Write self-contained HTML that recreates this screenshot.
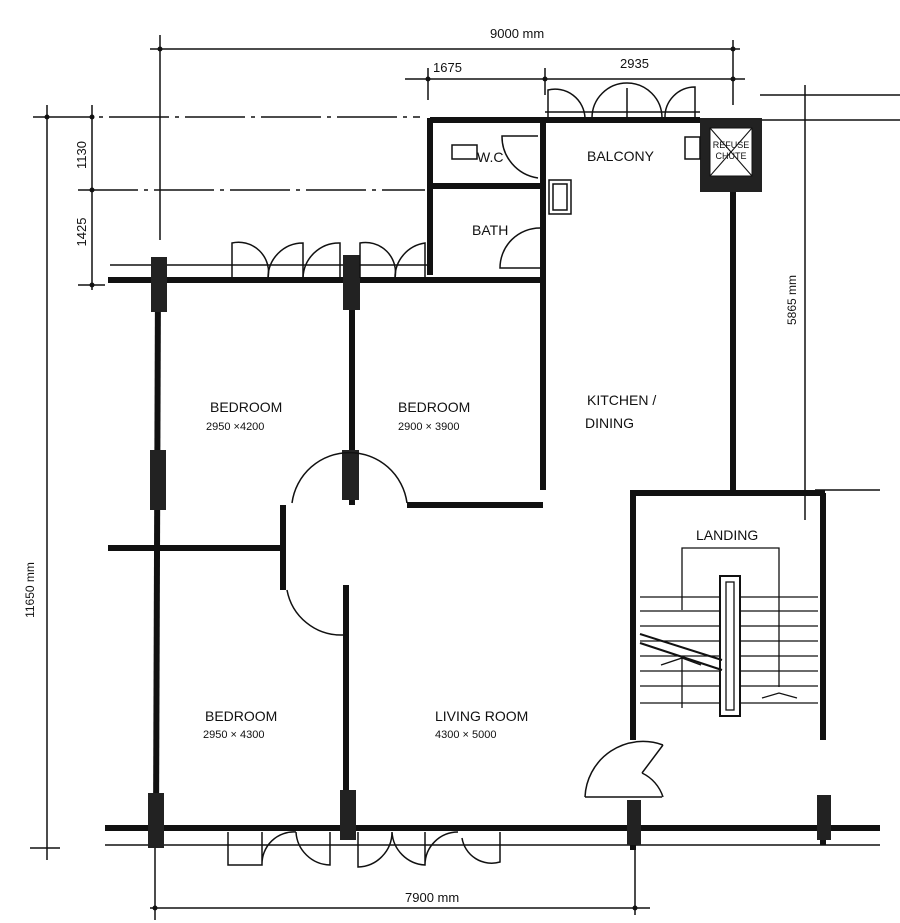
<!DOCTYPE html>
<html><head><meta charset="utf-8"><style>
html,body{margin:0;padding:0;background:#fff;}
svg{display:block;}
text{font-family:"Liberation Sans",sans-serif;fill:#111;}
</style></head><body>
<svg width="900" height="923" viewBox="0 0 900 923" xmlns="http://www.w3.org/2000/svg">
<g stroke="#111" fill="none" stroke-width="1.5">
<!-- dimension lines -->
<line x1="150" y1="49" x2="740" y2="49"/>
<line x1="160" y1="35" x2="160" y2="240"/>
<line x1="733" y1="40" x2="733" y2="105"/>
<line x1="405" y1="79" x2="745" y2="79"/>
<line x1="428" y1="68" x2="428" y2="100"/>
<line x1="545" y1="68" x2="545" y2="95"/>
<line x1="33" y1="117" x2="420" y2="117" stroke-dasharray="60,6,4,6"/>
<line x1="78" y1="190" x2="425" y2="190" stroke-dasharray="60,6,4,6"/>
<line x1="47" y1="105" x2="47" y2="860"/>
<line x1="92" y1="105" x2="92" y2="290"/>
<line x1="78" y1="285" x2="105" y2="285"/>
<line x1="30" y1="848" x2="60" y2="848"/>
<line x1="805" y1="85" x2="805" y2="520"/>
<line x1="150" y1="908" x2="650" y2="908"/>
<line x1="155" y1="845" x2="155" y2="920"/>
<line x1="635" y1="850" x2="635" y2="915"/>
<line x1="760" y1="95" x2="900" y2="95"/>
<line x1="760" y1="120" x2="900" y2="120"/>
<line x1="815" y1="490" x2="880" y2="490"/>
<!-- window lines top -->
<line x1="110" y1="265" x2="430" y2="265"/>
<line x1="545" y1="112" x2="700" y2="112"/>
<!-- bottom window line -->
<line x1="105" y1="845" x2="880" y2="845"/>
</g>
<g fill="#111">
<circle cx="160" cy="49" r="2.5"/><circle cx="733" cy="49" r="2.5"/>
<circle cx="428" cy="79" r="2.5"/><circle cx="545" cy="79" r="2.5"/><circle cx="733" cy="79" r="2.5"/>
<circle cx="47" cy="117" r="2.5"/><circle cx="92" cy="117" r="2.5"/><circle cx="92" cy="190" r="2.5"/><circle cx="92" cy="285" r="2.5"/>
<circle cx="155" cy="908" r="2.5"/><circle cx="635" cy="908" r="2.5"/>
</g>
<!-- walls -->
<g stroke="#111" stroke-width="6" fill="none">
<line x1="108" y1="280" x2="545" y2="280"/>
<line x1="158" y1="280" x2="156" y2="830"/>
<line x1="352" y1="280" x2="352" y2="505"/>
<line x1="407" y1="505" x2="543" y2="505"/>
<line x1="543" y1="118" x2="543" y2="490"/>
<line x1="430" y1="118" x2="430" y2="275"/>
<line x1="430" y1="120" x2="545" y2="120"/>
<line x1="430" y1="186" x2="543" y2="186"/>
<line x1="543" y1="120" x2="700" y2="120"/>
<line x1="733" y1="192" x2="733" y2="490"/>
<line x1="108" y1="548" x2="283" y2="548"/>
<line x1="283" y1="505" x2="283" y2="590"/>
<line x1="346" y1="585" x2="346" y2="830"/>
<line x1="105" y1="828" x2="880" y2="828"/>
<line x1="630" y1="493" x2="825" y2="493"/>
<line x1="633" y1="493" x2="633" y2="740"/>
<line x1="633" y1="800" x2="633" y2="850"/>
<line x1="823" y1="493" x2="823" y2="740"/>
<line x1="823" y1="795" x2="823" y2="845"/>
</g>
<!-- columns -->
<g fill="#222">
<rect x="151" y="257" width="16" height="55"/>
<rect x="343" y="255" width="17" height="55"/>
<rect x="150" y="450" width="16" height="60"/>
<rect x="342" y="450" width="17" height="50"/>
<rect x="148" y="793" width="16" height="55"/>
<rect x="340" y="790" width="16" height="50"/>
<rect x="627" y="800" width="14" height="45"/>
<rect x="817" y="795" width="14" height="45"/>
<rect x="700" y="118" width="62" height="74"/>
</g>
<rect x="710" y="128" width="42" height="48" fill="#fff" stroke="#111"/>
<g stroke="#111" stroke-width="1"><line x1="710" y1="128" x2="752" y2="176"/><line x1="752" y1="128" x2="710" y2="176"/></g>
<text x="731" y="148" font-size="9" text-anchor="middle">REFUSE</text>
<text x="731" y="159" font-size="9" text-anchor="middle">CHUTE</text>
<!-- doors -->
<g stroke="#111" stroke-width="1.5" fill="none">
<path d="M232 278 V243 A30 30 0 0 1 268 278"/>
<path d="M268 278 A35 35 0 0 1 303 243 V278"/>
<path d="M303 278 A36 36 0 0 1 340 243 V278"/>
<path d="M360 278 V243 A30 30 0 0 1 395 278"/>
<path d="M395 278 A35 35 0 0 1 425 243 V278"/>
<path d="M548 118 V90 A30 30 0 0 1 585 118"/>
<path d="M592 118 A35 35 0 0 1 662 118 M627 88 V118"/>
<path d="M665 118 A30 30 0 0 1 695 87 V118"/>
<path d="M292 503 A58 58 0 0 1 407 503"/>
<path d="M287 590 A55 55 0 0 0 342 635 H345"/>
<path d="M538 136 H502 A42 42 0 0 0 538 178"/>
<path d="M540 228 A40 40 0 0 0 500 268 H540"/>
<path d="M228 832 V865 H262 V832 M262 865 A32 32 0 0 1 296 832 M296 832 A35 35 0 0 0 330 865 V832"/>
<path d="M358 832 V867 A35 35 0 0 0 392 832 M392 832 A35 35 0 0 0 425 865 V832 M425 865 A33 33 0 0 1 458 832 M462 838 A30 30 0 0 0 500 862 V832"/>
<path d="M585 797 A58 58 0 0 1 663 745 M585 797 H662 M642 773 A40 40 0 0 1 663 797 M642 773 L663 745"/>
</g>
<!-- fixtures -->
<g stroke="#111" stroke-width="1.5" fill="none">
<rect x="452" y="145" width="25" height="14"/>
<rect x="549" y="180" width="22" height="34"/>
<rect x="553" y="184" width="14" height="26"/>
<rect x="685" y="137" width="15" height="22"/>
</g>
<!-- stairs -->
<g stroke="#111" stroke-width="1.3" fill="none">
<path d="M682 610 V548 H779 V687"/>
<line x1="640" y1="597" x2="818" y2="597"/>
<line x1="640" y1="611" x2="818" y2="611"/>
<line x1="640" y1="626" x2="818" y2="626"/>
<line x1="640" y1="641" x2="818" y2="641"/>
<line x1="640" y1="656" x2="818" y2="656"/>
<line x1="640" y1="671" x2="818" y2="671"/>
<line x1="640" y1="686" x2="818" y2="686"/>
<line x1="640" y1="703" x2="818" y2="703"/>
<rect x="720" y="576" width="20" height="140" fill="#fff" stroke-width="2"/>
<rect x="726" y="582" width="8" height="128"/>
<path d="M640 634 L722 660 M640 643 L722 670" stroke-width="2"/>
<path d="M661 665 L682 658 L701 665 M682 658 V708"/>
<path d="M762 698 L779 693 L797 698"/>
</g>
<!-- labels -->
<g font-size="14">
<text x="490" y="38" font-size="13">9000 mm</text>
<text x="433" y="72" font-size="13">1675</text>
<text x="620" y="68" font-size="13">2935</text>
<text x="86" y="155" font-size="13" transform="rotate(-90 86 155)" text-anchor="middle">1130</text>
<text x="86" y="232" font-size="13" transform="rotate(-90 86 232)" text-anchor="middle">1425</text>
<text x="34" y="590" font-size="12" transform="rotate(-90 34 590)" text-anchor="middle">11650 mm</text>
<text x="796" y="300" font-size="12" transform="rotate(-90 796 300)" text-anchor="middle">5865 mm</text>
<text x="405" y="902" font-size="13">7900 mm</text>
<text x="477" y="162">W.C</text>
<text x="472" y="235">BATH</text>
<text x="587" y="161">BALCONY</text>
<text x="210" y="412">BEDROOM</text>
<text x="206" y="430" font-size="11">2950 ×4200</text>
<text x="398" y="412">BEDROOM</text>
<text x="398" y="430" font-size="11">2900 × 3900</text>
<text x="587" y="405">KITCHEN /</text>
<text x="585" y="428">DINING</text>
<text x="696" y="540">LANDING</text>
<text x="205" y="721">BEDROOM</text>
<text x="203" y="738" font-size="11">2950 × 4300</text>
<text x="435" y="721">LIVING ROOM</text>
<text x="435" y="738" font-size="11">4300 × 5000</text>
</g>
</svg>
</body></html>
